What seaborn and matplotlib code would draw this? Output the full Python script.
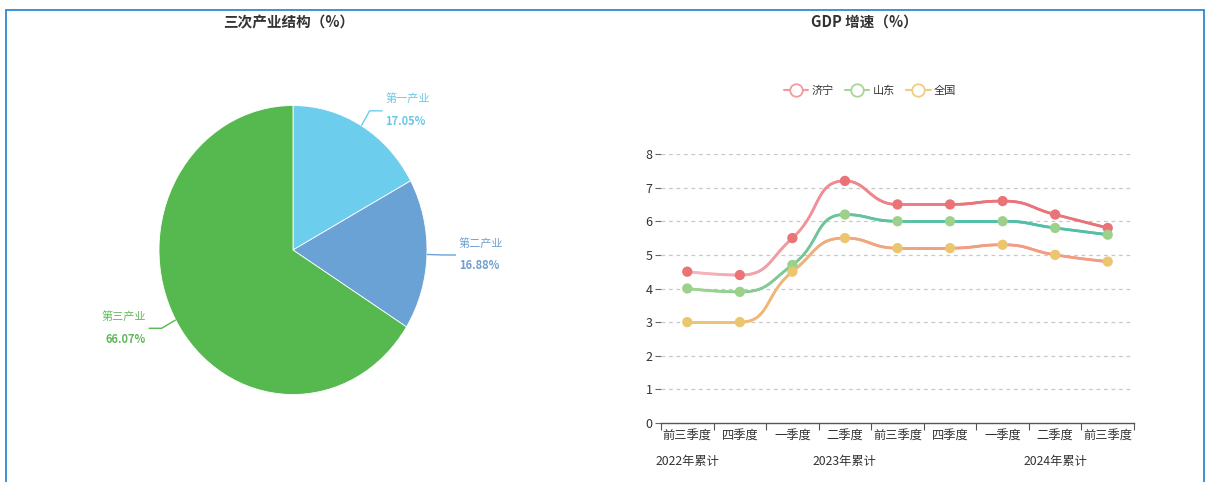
import numpy as np
import pandas as pd
import matplotlib
matplotlib.use("Agg")
import matplotlib.pyplot as plt
import seaborn as sns
from matplotlib.collections import LineCollection
from matplotlib.colors import LinearSegmentedColormap
from matplotlib.lines import Line2D
from matplotlib.patches import Rectangle

# ---------------- data ----------------
pie_names = ["第一产业", "第二产业", "第三产业"]
pie_values = [17.05, 16.88, 66.07]

quarters = ["前三季度", "四季度", "一季度", "二季度", "前三季度", "四季度", "一季度", "二季度", "前三季度"]
year_labels = ["2022年累计", "2023年累计", "2024年累计"]
year_label_pos = [0, 3, 7]

series_names = ["济宁", "山东", "全国"]
jining = [4.5, 4.4, 5.5, 7.2, 6.5, 6.5, 6.6, 6.2, 5.8]
shandong = [4.0, 3.9, 4.7, 6.2, 6.0, 6.0, 6.0, 5.8, 5.6]
national = [3.0, 3.0, 4.5, 5.5, 5.2, 5.2, 5.3, 5.0, 4.8]
y_ticks = [0, 1, 2, 3, 4, 5, 6, 7, 8]

# ---------------- style ----------------
sns.set_theme(style="white")
plt.rcParams["font.family"] = ["Noto Sans CJK SC", "DejaVu Sans"]
plt.rcParams["axes.unicode_minus"] = False

W, H = 1207, 482
fig = plt.figure(figsize=(W / 100, H / 100), dpi=100)

def fx(px):
    return px / W

def fy(py):
    return 1 - py / H

# border
fig.add_artist(Rectangle((fx(6), -0.05), fx(1204 - 6), fy(10) + 0.05,
                         transform=fig.transFigure, fill=False,
                         edgecolor="#1a7fd2", lw=1.2))

# titles
fig.text(fx(289), fy(22), "三次产业结构（%）", ha="center", va="center",
         fontsize=10.5, fontweight="bold", color="#333333")
fig.text(fx(864), fy(22), "GDP 增速（%）", ha="center", va="center",
         fontsize=10.5, fontweight="bold", color="#333333")

# ---------------- pie ----------------
pie_colors = ["#6ccdec", "#6ba2d5", "#55b94f"]
label_colors = ["#6cc6e6", "#6f9fd0", "#5fb95a"]
cx, cy, rx, ry = 293, 250, 134, 144.5
axp = fig.add_axes([fx(cx - rx), fy(cy + ry), fx(2 * rx), (2 * ry) / H])
wedges, _ = axp.pie(pie_values, colors=pie_colors, startangle=90, counterclock=False,
                    wedgeprops=dict(edgecolor="white", linewidth=0.6))
axp.set_aspect("auto")
axp.set_xlim(-1, 1)
axp.set_ylim(-1, 1)
axp.axis("off")

total = sum(pie_values)
start = 90.0
for name, val, col, lcol in zip(pie_names, pie_values, pie_colors, label_colors):
    span = 360 * val / total
    mid = np.deg2rad(start - span / 2)
    start -= span
    c, s = np.cos(mid), np.sin(mid)
    p0 = (c, s)
    p1 = (1.12 * c, 1.12 * s)
    side = 1 if c >= 0 else -1
    h = 13 / rx
    p2 = (p1[0] + side * h, p1[1])
    axp.plot([p0[0], p1[0], p2[0]], [p0[1], p1[1], p2[1]], color=col, lw=1.0,
             clip_on=False, solid_capstyle="butt")
    tx = p2[0] + side * 3 / rx
    ha = "left" if side > 0 else "right"
    axp.text(tx, p2[1] + 12 / ry, name, ha=ha, va="center", fontsize=8,
             color=lcol, clip_on=False)
    axp.text(tx, p2[1] - 11 / ry, f"{val:.2f}%", ha=ha, va="center", fontsize=8,
             fontweight="bold", color=lcol, clip_on=False)

# ---------------- line chart ----------------
ax_l, ax_r, ax_b, ax_t = 661, 1134, 423, 154
axl = fig.add_axes([fx(ax_l), fy(ax_b), fx(ax_r - ax_l), (ax_b - ax_t) / H])
n = len(quarters)
xs = np.arange(n)
axl.set_xlim(-0.5, n - 0.5)
axl.set_ylim(0, 8)

sx = (ax_r - ax_l) / n
sy = (ax_b - ax_t) / 8.0

def smooth_curve(x, y, smooth=0.5, per=40):
    P = np.column_stack([np.asarray(x, float) * sx, np.asarray(y, float) * sy])
    m = len(P)
    cp_in = P.copy()
    cp_out = P.copy()
    for i in range(1, m - 1):
        p, prv, nxt = P[i], P[i - 1], P[i + 1]
        v = nxt - prv
        d0 = np.linalg.norm(p - prv)
        d1 = np.linalg.norm(nxt - p)
        r = d1 / (d0 + d1) if d0 + d1 > 0 else 0.5
        c1 = p + v * smooth * r
        # constraint between point and next point
        c1 = np.minimum(c1, np.maximum(nxt, p))
        c1 = np.maximum(c1, np.minimum(nxt, p))
        vv = c1 - p
        c0 = p - vv * d0 / d1 if d1 > 0 else p.copy()
        # constraint between point and previous point
        c0 = np.minimum(c0, np.maximum(prv, p))
        c0 = np.maximum(c0, np.minimum(prv, p))
        vv = p - c0
        c1 = p + vv * d1 / d0 if d0 > 0 else p.copy()
        cp_in[i] = c0
        cp_out[i] = c1
    pts = []
    t = np.linspace(0, 1, per)[:, None]
    for i in range(m - 1):
        a, b, c, d = P[i], cp_out[i], cp_in[i + 1], P[i + 1]
        seg = ((1 - t) ** 3) * a + 3 * ((1 - t) ** 2) * t * b + 3 * (1 - t) * t ** 2 * c + t ** 3 * d
        pts.append(seg if i == 0 else seg[1:])
    pts = np.vstack(pts)
    return pts[:, 0] / sx, pts[:, 1] / sy

gradients = {
    "济宁": ["#f5b8bf", "#ef8d93", "#e8767b", "#e8747a"],
    "山东": ["#a3d48e", "#6cc39a", "#52bfa7", "#55bea6"],
    "全国": ["#ecc86e", "#f0ac7c", "#f29c84", "#f29d82"],
}
marker_colors = {"济宁": "#ea7378", "山东": "#9dd18b", "全国": "#ecc56f"}
legend_colors = {"济宁": "#f19aa0", "山东": "#a8d697", "全国": "#f0cc85"}

for name, vals in zip(series_names, [jining, shandong, national]):
    cxs, cys = smooth_curve(xs, vals)
    pts = np.column_stack([cxs, cys]).reshape(-1, 1, 2)
    segs = np.concatenate([pts[:-1], pts[1:]], axis=1)
    cmap = LinearSegmentedColormap.from_list(name, gradients[name])
    lc = LineCollection(segs, cmap=cmap, norm=plt.Normalize(0, n - 1), lw=2.0,
                        capstyle="round", joinstyle="round", zorder=3)
    lc.set_array((cxs[:-1] + cxs[1:]) / 2)
    axl.add_collection(lc)

df = pd.DataFrame({
    "x": np.tile(xs, 3),
    "value": jining + shandong + national,
    "series": np.repeat(series_names, n),
})
sns.scatterplot(data=df, x="x", y="value", hue="series", palette=marker_colors,
                s=55, edgecolor="none", legend=False, ax=axl, zorder=4)
axl.set_xlim(-0.5, n - 0.5)
axl.set_ylim(0, 8)
axl.set_xlabel("")
axl.set_ylabel("")

for yv in y_ticks[1:]:
    axl.axhline(yv, color="#c8c8c8", lw=0.9, ls=(0, (3, 3)), zorder=1)

for sp in ["top", "right", "left"]:
    axl.spines[sp].set_visible(False)
axl.spines["bottom"].set_color("#555555")
axl.spines["bottom"].set_linewidth(1.0)

axl.set_yticks(y_ticks)
axl.set_yticklabels([str(v) for v in y_ticks], fontsize=9, color="#333333")
axl.tick_params(axis="y", length=4, width=0.8, color="#666666", pad=2, left=True)
axl.set_xticks(xs)
axl.set_xticklabels(quarters, fontsize=8.8, color="#333333")
axl.set_xticks(np.arange(-0.5, n, 1.0), minor=True)
axl.tick_params(axis="x", which="major", length=0, pad=5)
axl.tick_params(axis="x", which="minor", length=5, width=0.8, color="#555555", bottom=True)

ytxt = -(462 - ax_b) / (ax_b - ax_t)
for lab, pos in zip(year_labels, year_label_pos):
    axl.text(pos, ytxt, lab, transform=axl.get_xaxis_transform(), ha="center", va="center",
             fontsize=8.8, color="#333333", clip_on=False)

# legend
handles = [Line2D([0], [0], color=legend_colors[s], lw=1.5, marker="o", markersize=9,
                  markerfacecolor="white", markeredgecolor=legend_colors[s], markeredgewidth=1.3)
           for s in series_names]
fig.legend(handles, series_names, loc="center", bbox_to_anchor=(fx(870), fy(91)),
           ncol=3, frameon=False, fontsize=8, handlelength=2.2, handletextpad=0.3,
           columnspacing=1.0, labelcolor="#333333")

fig.savefig("out.png", dpi=100)
